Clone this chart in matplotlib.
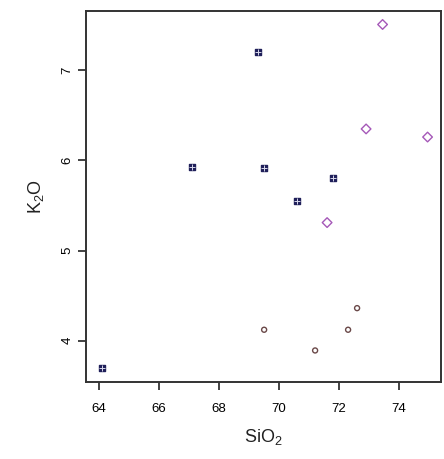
import matplotlib
matplotlib.use('Agg')
import matplotlib.pyplot as plt

plt.rcParams['font.family'] = ['Liberation Sans', 'DejaVu Sans']

# Group 1: navy squares with cross
sq_x = [64.1, 67.1, 69.3, 69.5, 70.6, 71.8]
sq_y = [3.69, 5.93, 7.20, 5.92, 5.55, 5.81]

# Group 2: purple open diamonds
dm_x = [71.6, 72.9, 73.45, 74.95]
dm_y = [5.31, 6.35, 7.51, 6.26]

# Group 3: small brown open circles
ci_x = [69.5, 71.2, 72.3, 72.6]
ci_y = [4.12, 3.89, 4.12, 4.36]

xticks = [64, 66, 68, 70, 72, 74]
yticks = [4, 5, 6, 7]

fig = plt.figure(figsize=(4.44, 4.59), dpi=100)
ax = fig.add_axes([0.1937, 0.1678, 0.799, 0.8083])

ax.scatter(sq_x, sq_y, marker='s', s=24, color='#20205a', zorder=3)
ax.scatter(sq_x, sq_y, marker='+', s=14, color='#d8d8ec', linewidths=0.7, zorder=4)
ax.scatter(dm_x, dm_y, marker='D', s=24, facecolors='none',
           edgecolors='#a558b8', linewidths=1.0, zorder=3)
ax.scatter(ci_x, ci_y, marker='o', s=13, facecolors='none',
           edgecolors='#6a4848', linewidths=1.0, zorder=3)

ax.set_xlim(63.56, 75.39)
ax.set_ylim(3.54, 7.66)
ax.set_xticks(xticks)
ax.set_yticks(yticks)
ax.set_xticklabels([str(t) for t in xticks], fontsize=9.5)
ax.set_yticklabels([str(t) for t in yticks], fontsize=9.5, rotation=90, va='center')

ax.tick_params(direction='out', length=6, width=1.2, color='#222222', top=False, right=False)
ax.tick_params(axis='x', pad=9)
ax.tick_params(axis='y', pad=3)

for sp in ax.spines.values():
    sp.set_linewidth(1.4)
    sp.set_color('#333333')

ax.set_xlabel(r'$\mathregular{SiO_2}$', fontsize=13, labelpad=9, color='#222222')
ax.set_ylabel(r'$\mathregular{K_2O}$', fontsize=13, labelpad=11, color='#222222')

fig.savefig('out.png', dpi=100, facecolor='white')
